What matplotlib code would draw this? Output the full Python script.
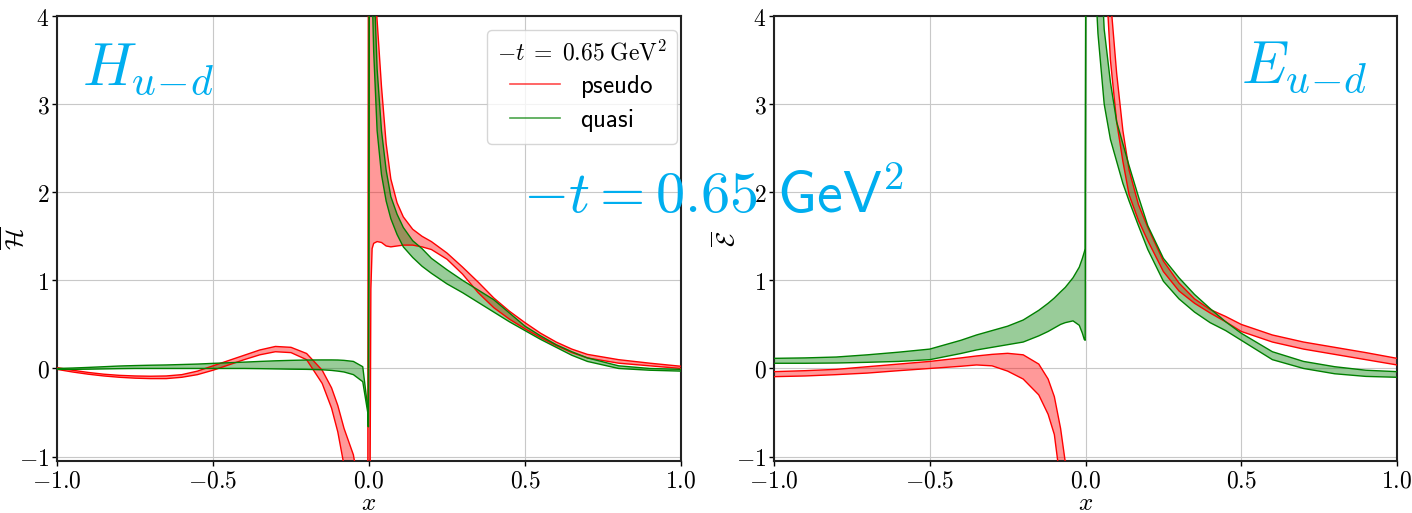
import numpy as np
import matplotlib
matplotlib.use("Agg")
import matplotlib.pyplot as plt
from matplotlib.lines import Line2D

plt.rcParams["mathtext.fontset"] = "cm"
plt.rcParams["font.family"] = ["DejaVu Sans"]

nan = np.nan

# ---------------- H_{u-d} ----------------
x_H = [-1.0, -0.95, -0.9, -0.85, -0.8, -0.75, -0.7, -0.65, -0.6, -0.55,
       -0.5, -0.45, -0.4, -0.35, -0.3, -0.25, -0.2, -0.15, -0.12, -0.1,
       -0.08, -0.05, -0.02, -0.004, -0.002, 0.002, 0.006, 0.01, 0.015, 0.026,
       0.04, 0.055, 0.07, 0.09, 0.11, 0.14, 0.17, 0.2, 0.25, 0.3,
       0.35, 0.4, 0.45, 0.5, 0.55, 0.6, 0.65, 0.7, 0.8, 0.9,
       1.0]

pseudo_H_hi = [0.01, -0.02, -0.045, -0.065, -0.078, -0.085, -0.088, -0.085, -0.07, -0.03,
               0.03, 0.09, 0.15, 0.21, 0.25, 0.24, 0.17, -0.02, -0.22, -0.42,
               -0.68, -0.98, -1.6, -2.2, 5.0, 5.5, 5.3, 5.0, 4.5, 3.95,
               3.2, 2.55, 2.15, 1.88, 1.72, 1.58, 1.5, 1.44, 1.31, 1.15,
               0.98, 0.80, 0.65, 0.52, 0.40, 0.30, 0.22, 0.16, 0.10, 0.06,
               0.025]
pseudo_H_lo = [-0.01, -0.04, -0.065, -0.085, -0.10, -0.11, -0.115, -0.115, -0.10, -0.07,
               -0.02, 0.04, 0.10, 0.155, 0.19, 0.18, 0.10, -0.17, -0.45, -0.72,
               -1.1, -1.7, -2.4, -3.0, -3.0, -2.5, 0.9, 1.36, 1.42, 1.44,
               1.43, 1.39, 1.38, 1.39, 1.40, 1.40, 1.38, 1.35, 1.24, 1.07,
               0.86, 0.69, 0.56, 0.45, 0.35, 0.26, 0.18, 0.12, 0.06, 0.03,
               0.0]

quasi_H_hi = [0.0, 0.005, 0.012, 0.02, 0.028, 0.033, 0.037, 0.04, 0.045, 0.05,
              0.058, 0.065, 0.072, 0.08, 0.087, 0.092, 0.096, 0.097, 0.097, 0.096,
              0.092, 0.08, 0.02, -0.45, -0.66, 6.0, 5.6, 5.1, 4.5, 3.4,
              2.7, 2.25, 1.95, 1.75, 1.6, 1.45, 1.36, 1.25, 1.12, 1.0,
              0.89, 0.78, 0.63, 0.48, 0.37, 0.27, 0.19, 0.12, 0.03, 0.0,
              -0.01]
quasi_H_lo = [-0.01, -0.01, -0.008, -0.005, -0.002, 0.0, 0.0, 0.0, 0.0, 0.0,
              0.0, 0.0, 0.0, -0.002, -0.005, -0.008, -0.01, -0.015, -0.022, -0.03,
              -0.04, -0.07, -0.15, -0.5, -0.66, 6.0, 5.0, 4.3, 3.6, 2.7,
              2.2, 1.9, 1.7, 1.52, 1.38, 1.26, 1.16, 1.08, 0.96, 0.86,
              0.75, 0.64, 0.53, 0.43, 0.33, 0.24, 0.15, 0.08, 0.0, -0.02,
              -0.03]

# ---------------- E_{u-d} ----------------
x_E = [-1.0, -0.9, -0.8, -0.7, -0.6, -0.5, -0.4, -0.35, -0.3, -0.25, -0.2, -0.15,
       -0.12, -0.1, -0.08, -0.065, -0.04, -0.02, -0.01, -0.004, -0.001, 0.002,
       0.02, 0.04, 0.06, 0.08, 0.1, 0.12, 0.14, 0.17, 0.2, 0.25, 0.3, 0.35,
       0.4, 0.45, 0.5, 0.6, 0.7, 0.8, 0.9, 1.0]

pseudo_E_hi = [-0.036, -0.025, -0.01, 0.02, 0.05, 0.08, 0.12, 0.142, 0.16, 0.172, 0.155, 0.05,
               -0.12, -0.32, -0.68, -1.06, -1.8, nan, nan, nan, nan, nan,
               nan, nan, 5.5, 4.2, 3.35, 2.7, 2.25, 1.86, 1.6, 1.22, 0.97, 0.79,
               0.67, 0.59, 0.50, 0.38, 0.30, 0.24, 0.18, 0.115]
pseudo_E_lo = [-0.093, -0.085, -0.07, -0.052, -0.025, 0.0, 0.025, 0.04, 0.03, -0.03, -0.12, -0.30,
               -0.52, -0.75, -1.3, -1.8, -2.6, nan, nan, nan, nan, nan,
               nan, nan, 4.8, 3.5, 2.8, 2.35, 1.97, 1.68, 1.45, 1.10, 0.88, 0.74,
               0.63, 0.53, 0.42, 0.30, 0.22, 0.16, 0.10, 0.04]

quasi_E_hi = [0.115, 0.12, 0.13, 0.155, 0.185, 0.22, 0.32, 0.38, 0.43, 0.48, 0.55, 0.66,
              0.74, 0.80, 0.87, 0.92, 1.03, 1.15, 1.25, 1.32, 1.36, 7.0,
              6.0, 5.3, 3.85, 3.25, 2.8, 2.55, 2.3, 1.95, 1.62, 1.25, 1.03, 0.84,
              0.68, 0.53, 0.40, 0.19, 0.08, 0.02, -0.02, -0.036]
quasi_E_lo = [0.059, 0.059, 0.062, 0.07, 0.08, 0.10, 0.17, 0.21, 0.24, 0.27, 0.30, 0.37,
              0.42, 0.46, 0.50, 0.52, 0.54, 0.49, 0.40, 0.33, 0.32, 7.0,
              5.2, 3.8, 3.0, 2.6, 2.35, 2.1, 1.9, 1.62, 1.35, 0.99, 0.79, 0.64,
              0.52, 0.43, 0.32, 0.10, 0.0, -0.06, -0.09, -0.10]

x_ticks = [-1.0, -0.5, 0.0, 0.5, 1.0]
x_tick_labels = [r"$-1.0$", r"$-0.5$", r"$0.0$", r"$0.5$", r"$1.0$"]
y_ticks = [-1, 0, 1, 2, 3, 4]
y_tick_labels = [r"$-1$", r"$0$", r"$1$", r"$2$", r"$3$", r"$4$"]

series_labels = [r"$\mathsf{pseudo}$", r"$\mathsf{quasi}$"]
legend_title = r"$-t\;=\;0.65\;\mathrm{GeV}^2$"
cyan = "#00AEEF"

W, H = 1412, 513
fig = plt.figure(figsize=(W / 100, H / 100), dpi=100)
axL = fig.add_axes([57 / W, 1 - 461 / H, 624 / W, 445 / H])
axR = fig.add_axes([774 / W, 1 - 461 / H, 623 / W, 445 / H])


def draw_band(ax, x, lo, hi, color):
    ax.fill_between(x, lo, hi, color=color, alpha=0.4, lw=0, zorder=2)
    ax.plot(x, lo, color=color, lw=1.0, zorder=3)
    ax.plot(x, hi, color=color, lw=1.0, zorder=3)


draw_band(axL, x_H, pseudo_H_lo, pseudo_H_hi, "red")
draw_band(axL, x_H, quasi_H_lo, quasi_H_hi, "green")
draw_band(axR, x_E, pseudo_E_lo, pseudo_E_hi, "red")
draw_band(axR, x_E, quasi_E_lo, quasi_E_hi, "green")

for ax, ylab, ylx in [(axL, r"$\overline{\mathcal{H}}$", -0.046),
                      (axR, r"$\overline{\mathcal{E}}$", -0.055)]:
    ax.set_xlim(-1.0, 1.0)
    ax.set_ylim(-1.05, 4.0)
    ax.set_xticks(x_ticks, x_tick_labels)
    ax.set_yticks(y_ticks, y_tick_labels)
    ax.tick_params(labelsize=17, length=3.5, width=1.0, pad=2)
    ax.grid(True, color="#c8c8c8", lw=0.8, zorder=0)
    ax.set_axisbelow(True)
    for s in ax.spines.values():
        s.set_linewidth(1.5)
        s.set_color("#222222")
    ax.set_xlabel(r"$x$", fontsize=18)
    ax.xaxis.set_label_coords(0.5, -0.068)
    ax.set_ylabel(ylab, fontsize=18)
    ax.yaxis.set_label_coords(ylx, 0.5)

axL.text(0.04, 0.845, r"$H_{u\!-\!d}$", transform=axL.transAxes, color=cyan,
         fontsize=43, va="baseline", ha="left")
axR.text(0.953, 0.849, r"$E_{u\!-\!d}$", transform=axR.transAxes, color=cyan,
         fontsize=43, va="baseline", ha="right")

handles = [Line2D([], [], color="red", lw=1.2, alpha=0.7),
           Line2D([], [], color="green", lw=1.2, alpha=0.7)]
leg = axL.legend(handles, series_labels, title=legend_title, loc="upper right",
                 bbox_to_anchor=(0.9936, 0.9685), borderaxespad=0.0,
                 fontsize=18, title_fontsize=17, framealpha=0.8, edgecolor="#cccccc",
                 handlelength=2.0, labelspacing=0.3)

fig.text(713 / W, 1 - 213 / H, r"$-t = 0.65$ $\mathsf{GeV^2}$", color=cyan,
         fontsize=42, ha="center", va="baseline", zorder=10)

fig.savefig("out.png", dpi=100)
